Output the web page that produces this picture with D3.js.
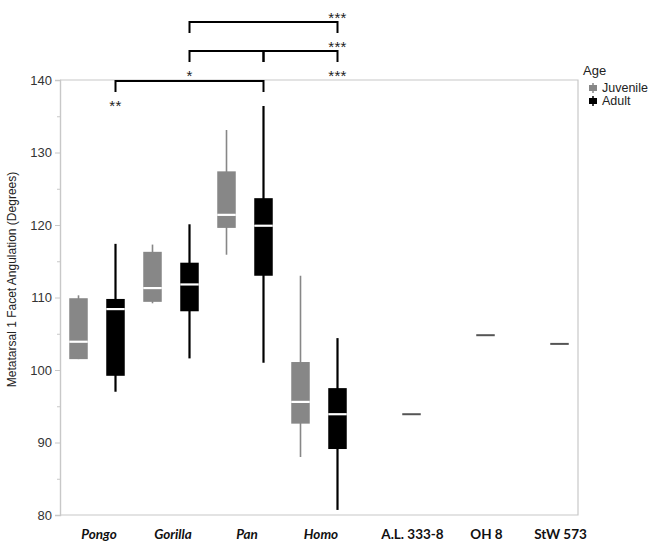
<!DOCTYPE html>
<html>
<head>
<meta charset="utf-8">
<script src="https://cdn.jsdelivr.net/npm/d3@7"></script>
<style>
  html, body { margin: 0; padding: 0; background: #fff; }
  svg { display: block; }
</style>
</head>
<body>
<svg id="chart" width="661" height="541"></svg>
<script>
// Categories along the x axis (genera, then individual fossils)
const categories = ["Pongo", "Gorilla", "Pan", "Homo", "A.L. 333-8", "OH 8", "StW 573"];
const genera = ["Pongo", "Gorilla", "Pan", "Homo"];
const ages = ["Juvenile", "Adult"];

// Box-plot summaries per genus: [whisker low, Q1, median, Q3, whisker high]
const juvenileStats = [
  [101.5, 101.5, 103.9, 109.9, 110.3],
  [109.2, 109.4, 111.3, 116.3, 117.3],
  [115.9, 119.6, 121.4, 127.4, 133.1],
  [88.0, 92.6, 95.6, 101.1, 113.0]
];
const adultStats = [
  [97.0, 99.2, 108.4, 109.8, 117.4],
  [101.6, 108.1, 111.8, 114.8, 120.1],
  [101.0, 113.0, 119.9, 123.7, 136.4],
  [80.7, 89.1, 93.9, 97.5, 104.4]
];

// Single fossil specimens
const fossils = ["A.L. 333-8", "OH 8", "StW 573"];
const fossilValues = [93.9, 104.8, 103.6];

// Axis ticks
const yTicks = [80, 90, 100, 110, 120, 130, 140];
const yMinorTicks = [85, 95, 105, 115, 125, 135];

// Significance brackets between adult groups: [from, to, level]
const bracketFrom = ["Pongo", "Gorilla", "Pan", "Gorilla"];
const bracketTo = ["Pan", "Pan", "Homo", "Homo"];
const bracketLevel = [0, 1, 1, 2];

// Significance labels: anchored category, level, above/below bracket
const sigText = ["**", "*", "***", "***", "***"];
const sigAt = ["Pongo", "Gorilla", "Homo", "Homo", "Homo"];
const sigLevel = [0, 1, 1, 1, 2];
const sigSide = ["below", "below", "below", "above", "above"];

const svg = d3.select("#chart");
const plot = { left: 60, right: 578, top: 80, bottom: 515 };

const x = d3.scaleBand().domain(categories).range([plot.left, plot.right]).padding(0);
const xAge = d3.scaleBand().domain(ages).range([0, x.bandwidth()]).padding(0);
const y = d3.scaleLinear().domain([80, 140]).range([plot.bottom, plot.top]);

const boxW = xAge.bandwidth() * 0.5;
const cx = (cat, age) => x(cat) + xAge(age) + xAge.bandwidth() / 2;

const frameColor = "#c8c8c8";

// Plot frame (top, right, bottom)
svg.append("path")
  .attr("d", `M${plot.left},${plot.top}H${plot.right}V${plot.bottom}H${plot.left}`)
  .attr("fill", "none").attr("stroke", frameColor).attr("stroke-width", 1.2);

// Y axis with major and minor ticks
const yAxis = svg.append("g").attr("transform", `translate(${plot.left},0)`)
  .call(d3.axisLeft(y).tickValues(yTicks).tickSize(5).tickPadding(3).tickFormat(d3.format("d")));
yAxis.select(".domain").attr("stroke", frameColor).attr("stroke-width", 1.4);
yAxis.selectAll(".tick line").attr("stroke", frameColor);
yAxis.selectAll(".tick text")
  .attr("font-family", "Liberation Sans, Arial, sans-serif")
  .attr("font-size", 13).attr("fill", "#333");

const yMinor = svg.append("g").attr("transform", `translate(${plot.left},0)`)
  .call(d3.axisLeft(y).tickValues(yMinorTicks).tickSize(3).tickFormat(""));
yMinor.select(".domain").remove();
yMinor.selectAll(".tick line").attr("stroke", frameColor);

// Y axis title
svg.append("text")
  .attr("transform", `translate(16,${(plot.top + plot.bottom) / 2 - 18}) rotate(-90)`)
  .attr("text-anchor", "middle")
  .attr("font-family", "Liberation Sans, Arial, sans-serif")
  .attr("font-size", 12).attr("fill", "#222")
  .text("Metatarsal 1 Facet Angulation (Degrees)");

// Box plots
const groups = [];
genera.forEach((g, i) => {
  groups.push({ cat: g, age: "Juvenile", s: juvenileStats[i] });
  groups.push({ cat: g, age: "Adult", s: adultStats[i] });
});
const ageFill = { Juvenile: "#878787", Adult: "#000000" };
const ageWhisker = { Juvenile: 1.6, Adult: 2.2 };

const boxes = svg.append("g").selectAll("g").data(groups).join("g");
boxes.append("line")
  .attr("x1", d => cx(d.cat, d.age)).attr("x2", d => cx(d.cat, d.age))
  .attr("y1", d => y(d.s[0])).attr("y2", d => y(d.s[4]))
  .attr("stroke", d => ageFill[d.age]).attr("stroke-width", d => ageWhisker[d.age]);
boxes.append("rect")
  .attr("x", d => cx(d.cat, d.age) - boxW / 2).attr("width", boxW)
  .attr("y", d => y(d.s[3])).attr("height", d => y(d.s[1]) - y(d.s[3]))
  .attr("fill", d => ageFill[d.age]);
boxes.append("line")
  .attr("x1", d => cx(d.cat, d.age) - boxW / 2).attr("x2", d => cx(d.cat, d.age) + boxW / 2)
  .attr("y1", d => y(d.s[2])).attr("y2", d => y(d.s[2]))
  .attr("stroke", "#fff").attr("stroke-width", 2.2);

// Fossil specimens as single dashes
svg.append("g").selectAll("line").data(fossils).join("line")
  .attr("x1", (d) => cx(d, "Adult") - boxW / 2).attr("x2", (d) => cx(d, "Adult") + boxW / 2)
  .attr("y1", (d, i) => y(fossilValues[i])).attr("y2", (d, i) => y(fossilValues[i]))
  .attr("stroke", "#555").attr("stroke-width", 2);

// Category labels
svg.append("g").selectAll("text").data(categories).join("text")
  .attr("x", d => genera.includes(d) ? x(d) + x.bandwidth() / 2 + 2 : cx(d, "Adult") + 1)
  .attr("y", 539)
  .attr("text-anchor", "middle")
  .attr("font-family", "Lato, 'Open Sans', sans-serif")
  .attr("font-weight", "bold")
  .attr("font-style", d => genera.includes(d) ? "italic" : "normal")
  .attr("font-size", 13.5).attr("fill", "#111")
  .text(d => d);

// Significance brackets
const levelY = [81, 51, 22];
const legLen = 11;
svg.append("g").selectAll("path").data(bracketFrom).join("path")
  .attr("d", (d, i) => {
    const x1 = cx(d, "Adult"), x2 = cx(bracketTo[i], "Adult");
    const yy = levelY[bracketLevel[i]];
    return `M${x1},${yy + legLen}V${yy}H${x2}V${yy + legLen}`;
  })
  .attr("fill", "none").attr("stroke", "#000").attr("stroke-width", 2);

svg.append("g").selectAll("text").data(sigText).join("text")
  .attr("x", (d, i) => cx(sigAt[i], "Adult"))
  .attr("y", (d, i) => levelY[sigLevel[i]] + (sigSide[i] === "below" ? 30 : 1))
  .attr("text-anchor", "middle")
  .attr("font-family", "Liberation Sans, Arial, sans-serif")
  .attr("font-size", 15).attr("letter-spacing", 0.3).attr("fill", "#222")
  .text(d => d);

// Legend
const legend = svg.append("g").attr("transform", "translate(583,0)");
legend.append("text").attr("x", 0).attr("y", 75)
  .attr("font-family", "Liberation Sans, Arial, sans-serif")
  .attr("font-size", 13).attr("fill", "#222").text("Age");
const legRows = legend.selectAll("g.row").data(ages).join("g")
  .attr("class", "row")
  .attr("transform", (d, i) => `translate(10,${88 + i * 13})`);
legRows.append("line").attr("x1", 0).attr("x2", 0).attr("y1", -5).attr("y2", 5)
  .attr("stroke", d => ageFill[d]).attr("stroke-width", 1.5);
legRows.append("rect").attr("x", -4).attr("y", -3).attr("width", 8).attr("height", 6)
  .attr("fill", d => ageFill[d]);
legRows.append("text").attr("x", 9).attr("y", 4.3)
  .attr("font-family", "Liberation Sans, Arial, sans-serif")
  .attr("font-size", 12.5).attr("fill", "#222").text(d => d);
</script>
</body>
</html>
